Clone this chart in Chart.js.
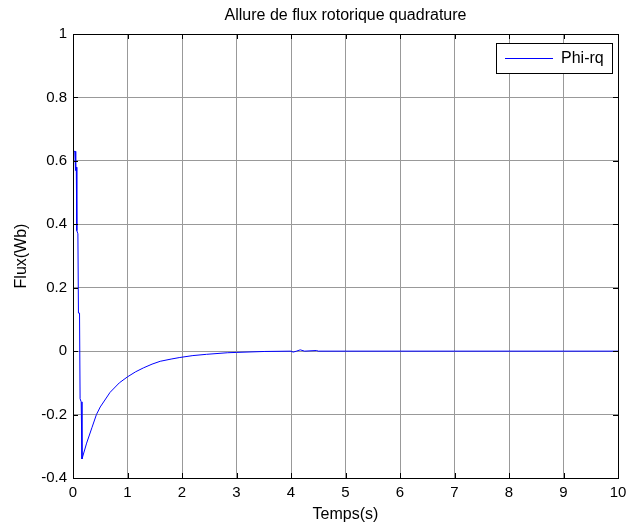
<!DOCTYPE html>
<html>
<head>
<meta charset="utf-8">
<script src="https://cdn.jsdelivr.net/npm/chart.js@4.4.1/dist/chart.umd.min.js"></script>
<style>
  html, body { margin: 0; padding: 0; background: #fff; }
  #wrap { width: 642px; height: 531px; }
</style>
</head>
<body>
<div id="wrap"><canvas id="fluxChart" width="642" height="531"></canvas></div>
<script>
// values
const timeValues = [0, 0.005, 0.01, 0.02, 0.04, 0.05, 0.06, 0.07, 0.09, 0.1, 0.12, 0.13, 0.15, 0.165,
  0.25, 0.35, 0.43, 0.5, 0.68, 0.85, 1.0, 1.15, 1.29, 1.45, 1.6, 1.8, 1.96, 2.2, 2.45, 2.84, 3.0,
  3.52, 4.0, 4.04, 4.1, 4.17, 4.25, 4.47, 4.5, 10];
const fluxValues = [0, 0.31, 0.55, 0.63, 0.63, 0.57, 0.58, 0.38, 0.37, 0.12, 0.12, -0.15, -0.16, -0.34,
  -0.29, -0.24, -0.20, -0.176, -0.13, -0.10, -0.081, -0.065, -0.053, -0.041, -0.032, -0.025, -0.02, -0.014, -0.01, -0.005, -0.004,
  -0.001, 0, -0.003, 0, 0.004, 0, 0.002, 0, 0];
const xTicks = [0, 1, 2, 3, 4, 5, 6, 7, 8, 9, 10];
const yTicks = [-0.4, -0.2, 0, 0.2, 0.4, 0.6, 0.8, 1];
const seriesName = 'Phi-rq';

const points = timeValues.map((t, i) => ({ x: t, y: fluxValues[i] }));
const family = 'Liberation Sans, Arial, sans-serif';
const tickFont = { family, size: 15 };
const labelFont = { family, size: 16 };

// black box + inward ticks + legend, matlab style
const boxPlugin = {
  id: 'box',
  afterDraw(chart) {
    const { ctx, chartArea: a, scales } = chart;
    ctx.save();
    ctx.strokeStyle = '#000';
    ctx.lineWidth = 1;
    ctx.beginPath();
    xTicks.forEach(v => {
      const px = Math.round(scales.x.getPixelForValue(v)) + 0.5;
      ctx.moveTo(px, a.bottom); ctx.lineTo(px, a.bottom - 5);
      ctx.moveTo(px, a.top); ctx.lineTo(px, a.top + 5);
    });
    yTicks.forEach(v => {
      const py = Math.round(scales.y.getPixelForValue(v)) + 0.5;
      ctx.moveTo(a.left, py); ctx.lineTo(a.left + 5, py);
      ctx.moveTo(a.right, py); ctx.lineTo(a.right - 5, py);
    });
    ctx.stroke();
    ctx.strokeRect(Math.round(a.left) + 0.5, Math.round(a.top) + 0.5,
      Math.round(a.right - a.left), Math.round(a.bottom - a.top));

    // legend
    const lx = Math.round(a.right) - 122, ly = Math.round(a.top) + 9;
    const lw = 116, lh = 30;
    ctx.fillStyle = '#fff';
    ctx.fillRect(lx, ly, lw, lh);
    ctx.strokeRect(lx + 0.5, ly + 0.5, lw, lh);
    ctx.strokeStyle = '#0000ff';
    ctx.beginPath();
    ctx.moveTo(lx + 9, ly + 15.5); ctx.lineTo(lx + 57, ly + 15.5);
    ctx.stroke();
    ctx.fillStyle = '#000';
    ctx.font = '16px ' + family;
    ctx.textBaseline = 'middle';
    ctx.fillText(seriesName, lx + 65, ly + 16);
    ctx.restore();
  }
};

new Chart(document.getElementById('fluxChart'), {
  type: 'line',
  data: {
    datasets: [{
      label: seriesName,
      data: points,
      borderColor: '#0000ff',
      borderWidth: 1,
      pointRadius: 0,
      tension: 0,
      fill: false
    }]
  },
  options: {
    responsive: false,
    animation: false,
    layout: { padding: { top: 0, right: 24, left: 0, bottom: 0 } },
    plugins: {
      legend: { display: false },
      tooltip: { enabled: false },
      title: {
        display: true,
        text: 'Allure de flux rotorique quadrature',
        color: '#000',
        font: { family, size: 16, weight: 'normal' },
        padding: { top: 6.4, bottom: 8.4 },
        fullSize: false
      }
    },
    scales: {
      x: {
        type: 'linear',
        min: 0, max: 10,
        afterBuildTicks: s => { s.ticks = xTicks.map(v => ({ value: v })); },
        afterFit: s => { s.height = 53; },
        grid: { color: '#999', drawTicks: false },
        border: { display: false },
        ticks: { color: '#000', font: tickFont, padding: 6, maxRotation: 0 },
        title: { display: true, text: 'Temps(s)', color: '#000', font: labelFont, padding: { top: 0, bottom: 6.4 } }
      },
      y: {
        min: -0.4, max: 1,
        afterBuildTicks: s => { s.ticks = yTicks.map(v => ({ value: v })); },
        afterFit: s => { s.width = 73; },
        grid: { color: '#999', drawTicks: false },
        border: { display: false },
        ticks: { color: '#000', font: tickFont, padding: 6, callback: v => String(Math.round(v * 10) / 10) },
        title: { display: true, text: 'Flux(Wb)', color: '#000', font: labelFont, padding: { top: 12.4, bottom: 0 } }
      }
    }
  },
  plugins: [boxPlugin]
});
</script>
</body>
</html>
